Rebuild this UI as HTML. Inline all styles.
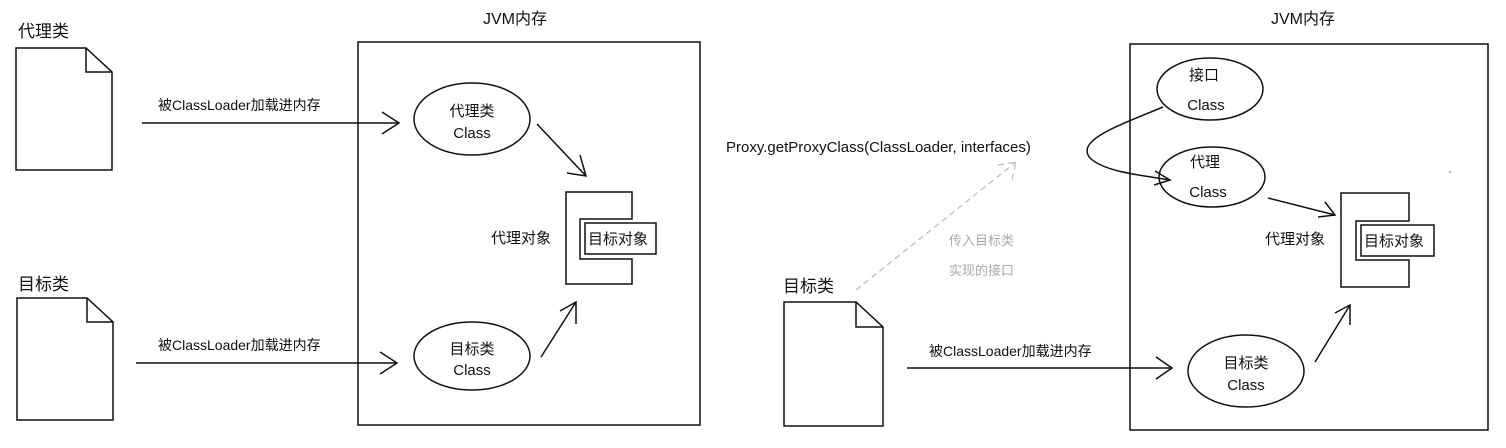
<!DOCTYPE html>
<html><head><meta charset="utf-8"><style>
html,body{margin:0;padding:0;background:#fff;}
svg text{font-family:"Liberation Sans","Noto Sans CJK SC",sans-serif;fill:#111;}
</style></head><body>
<svg width="1506" height="443" viewBox="0 0 1506 443" xmlns="http://www.w3.org/2000/svg">
<g fill="none" stroke="#111" stroke-width="1.5">
<path d="M16,48 H86 L112,72 V170 H16 Z M86,48 V72 H112"/>
<path d="M17,298 H87 L113,322 V420 H17 Z M87,298 V322 H113"/>
<rect x="358" y="42" width="342" height="383"/>
<line x1="142" y1="123" x2="399" y2="123"/><path d="M382,112 L399,123 L382,134"/>
<line x1="136" y1="363" x2="397" y2="363"/><path d="M380,352 L397,363 L380,374"/>
<ellipse cx="472" cy="119" rx="58" ry="36"/>
<ellipse cx="472" cy="356" rx="58" ry="34"/>
<line x1="537" y1="124" x2="586" y2="176"/><path d="M580,155 L586,176 L567,173"/>
<line x1="541" y1="357" x2="576" y2="302"/><path d="M560,311 L576,302 L576,324"/>
<path d="M566,192 H632 V219 H580 V259 H632 V284 H566 Z"/>
<rect x="585" y="223" width="71" height="31"/>
<path d="M784,302 H856 L883,327 V426 H784 Z M856,302 V327 H883"/>
<rect x="1130" y="44" width="358" height="386"/>
<line x1="907" y1="368" x2="1172" y2="368"/><path d="M1156,357 L1172,368 L1156,379"/>
<ellipse cx="1210" cy="89" rx="53" ry="31"/>
<ellipse cx="1212" cy="177" rx="53" ry="30"/>
<ellipse cx="1246" cy="371" rx="58" ry="36"/>
<path d="M1163,107 C1120,125 1075,140 1090,158 C1105,172 1140,175 1170,180"/><path d="M1155,171 L1170,180 L1154,185"/>
<line x1="1268" y1="198" x2="1335" y2="215"/><path d="M1325,202 L1335,215 L1318,217"/>
<line x1="1315" y1="362" x2="1350" y2="305"/><path d="M1335,313 L1350,305 L1350,325"/>
<path d="M1341,193 H1409 V221 H1356 V260 H1409 V287 H1341 Z"/>
<rect x="1361" y="225" width="73" height="31"/>
</g>
<line x1="856" y1="290" x2="1016" y2="162" stroke="#bbb" stroke-width="1.2" stroke-dasharray="6,4"/>
<path d="M998,165 L1016,162 L1012,180" fill="none" stroke="#bbb" stroke-width="1.2" stroke-dasharray="6,4"/>
<circle cx="1450" cy="172" r="1" fill="#999"/>
<g font-size="15">
<text x="483" y="24" font-size="16">JVM内存</text>
<text x="1271" y="24" font-size="16">JVM内存</text>
<text x="18" y="37" font-size="17">代理类</text>
<text x="18" y="290" font-size="17">目标类</text>
<text x="783" y="292" font-size="17">目标类</text>
<text x="158" y="110" font-size="14">被ClassLoader加载进内存</text>
<text x="158" y="350" font-size="14">被ClassLoader加载进内存</text>
<text x="929" y="356" font-size="14">被ClassLoader加载进内存</text>
<text x="472" y="116" text-anchor="middle">代理类</text>
<text x="472" y="138" text-anchor="middle">Class</text>
<text x="472" y="354" text-anchor="middle">目标类</text>
<text x="472" y="375" text-anchor="middle">Class</text>
<text x="491" y="243">代理对象</text>
<text x="588" y="244">目标对象</text>
<text x="726" y="152">Proxy.getProxyClass(ClassLoader, interfaces)</text>
<text x="949" y="245" font-size="13" style="fill:#aaa">传入目标类</text>
<text x="949" y="275" font-size="13" style="fill:#aaa">实现的接口</text>
<text x="1204" y="80" text-anchor="middle">接口</text>
<text x="1206" y="110" text-anchor="middle">Class</text>
<text x="1205" y="167" text-anchor="middle">代理</text>
<text x="1208" y="197" text-anchor="middle">Class</text>
<text x="1246" y="368" text-anchor="middle">目标类</text>
<text x="1246" y="390" text-anchor="middle">Class</text>
<text x="1265" y="244">代理对象</text>
<text x="1364" y="246">目标对象</text>
</g>
</svg>
</body></html>
